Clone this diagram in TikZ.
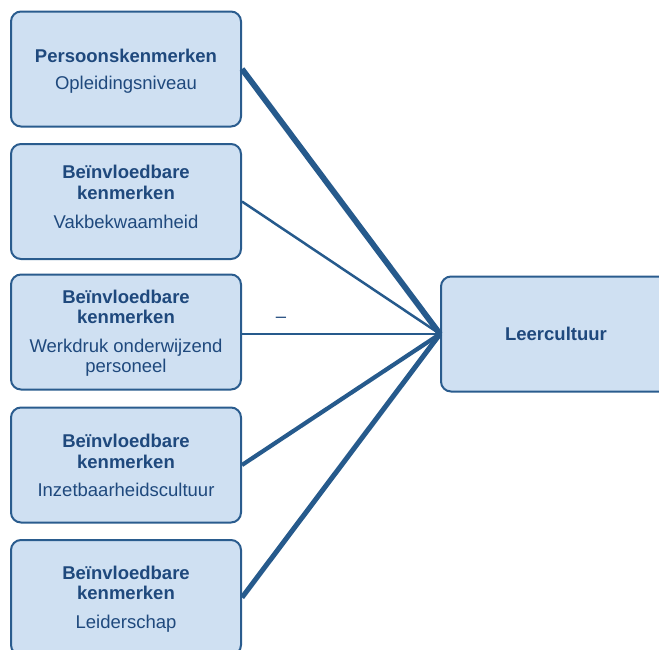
\documentclass[tikz,border=0pt]{standalone}
\usepackage{fontspec}
\setmainfont{Liberation Sans}
\definecolor{boxfill}{RGB}{207,224,242}
\definecolor{boxline}{RGB}{42,92,142}
\definecolor{txt}{RGB}{31,73,125}
\definecolor{conn}{RGB}{38,90,140}
\begin{document}
\begin{tikzpicture}[x=1pt,y=-1pt,
  box/.style={draw=boxline, line width=2pt, fill=boxfill, rounded corners=10pt,
    minimum width=230pt, minimum height=115pt, inner sep=0pt},
  lbl/.style={text=txt, align=center, inner sep=0pt, font=\fontsize{18.5}{20.3}\selectfont},
  conn/.style={draw=conn}]
\useasboundingbox (0,0) rectangle (659,649);
\node[box] (p1) at (126,69) {};
\node[box] (p2) at (126,201.5) {};
\node[box] (p3) at (126,332) {};
\node[box] (p4) at (126,465) {};
\node[box] (p5) at (126,597.5) {};
\node[box] (r) at (556,334) {};
\node[lbl] (t1) at (126,71) {\textbf{Persoonskenmerken}\\[6.7pt]Opleidingsniveau};
\node[lbl] (t2) at (126,197) {\textbf{Beïnvloedbare}\\\textbf{kenmerken}\\[8.7pt]Vakbekwaamheid};
\node[lbl] (t3) at (126,333) {\textbf{Beïnvloedbare}\\\textbf{kenmerken}\\[8.7pt]Werkdruk onderwijzend\\[-1pt]personeel};
\node[lbl] (t4) at (126,465.5) {\textbf{Beïnvloedbare}\\\textbf{kenmerken}\\[7.7pt]Inzetbaarheidscultuur};
\node[lbl] (t5) at (126,599.5) {\textbf{Beïnvloedbare}\\\textbf{kenmerken}\\[8.7pt]Leiderschap};
\node[lbl, font=\fontsize{18.5}{20.3}\selectfont\bfseries] (tr) at (r) {Leercultuur};
\draw[conn, line width=5.8pt] (p1.east) -- (r.west);
\draw[conn, line width=2.5pt] (p2.east) -- (r.west);
\draw[conn, line width=2.2pt] (p3.east |- r.west) -- (r.west);
\draw[conn, line width=4.2pt] (p4.east) -- (r.west);
\draw[conn, line width=5pt] (p5.east) -- (r.west);
\node[text=txt, font=\fontsize{18.5}{20}\selectfont, inner sep=0pt] (m) at (281,320) {–};
\end{tikzpicture}
\end{document}
